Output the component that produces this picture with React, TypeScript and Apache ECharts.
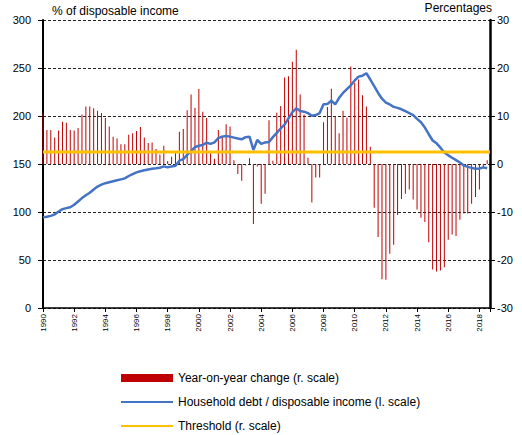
import React, { useEffect, useRef } from "react";
import * as echarts from "echarts";

const START_YEAR = 1990;
const END_X = 2018.68;
const THRESHOLD = 2.5;

// Year-on-year change (%, right scale), quarterly from 1990Q1
const yoyChange = [
  10.5, 7.1, 7.1, 5.5, 7.0, 8.8, 8.6, 7.1, 7.0, 7.5,
  10.3, 12.0, 12.0, 11.6, 11.1, 10.6, 9.6, 7.8, 5.7, 5.3,
  4.1, 4.1, 6.1, 6.4, 6.9, 7.7, 5.5, 4.4, 4.5, 3.1,
  2.0, 3.8, 0.6, 1.5, 2.4, 6.7, 7.3, 11.2, 14.5, 11.7,
  15.6, 10.9, 9.6, 2.2, 1.1, 7.1, 5.9, 8.3, 7.8, 0.8,
  -2.1, -3.5, -0.3, 1.2, -12.5, -0.5, -8.3, -6.2, 9.1, 0.7,
  10.7, 12.1, 18.0, 18.3, 21.3, 23.8, 14.5, 10.3, 1.3, -8.0,
  -2.8, -2.8, 8.7, 11.9, 15.7, 9.9, 6.4, 11.1, 9.7, 20.3,
  16.9, 17.6, 14.3, 12.0, 3.6, -9.1, -15.2, -24.0, -24.1, -18.7,
  -16.8, -10.6, -7.3, -6.2, -5.3, -7.4, -9.5, -11.2, -12.1, -16.3,
  -22.0, -22.4, -22.2, -21.5, -15.8, -14.7, -15.0, -11.6, -10.3, -10.3,
  -8.3, -6.9, -5.3, -0.6, 0.8,
];

// Household debt / disposable income (%, left scale), quarterly from 1990Q1
const debtRatio = [
  94.5, 95, 96, 97.5, 100.5, 103, 104, 105, 107.5, 111,
  114.5, 117.5, 120, 123.5, 126.5, 128.5, 130, 131, 132, 133,
  134, 135, 137.5, 139.5, 141.3, 142.5, 143.5, 144.3, 145, 145.5,
  146.1, 147.5, 146.5, 147.5, 148.2, 153.5, 155, 159.5, 163.5, 167.5,
  169, 169.8, 172.2, 171, 172.5, 177, 178.5, 179.2, 178.5, 177.5,
  176.5, 175.7, 178, 178.5, 164.6, 175, 171, 172.5, 173, 178,
  182.5, 187, 191, 197.5, 204, 208, 205.2, 204.5, 203, 200.3,
  201, 203, 212.2, 212.5, 216, 212, 219, 224, 228, 232,
  237, 241, 242, 244.5, 238, 231, 224, 218, 214, 212,
  209.5, 208.5, 207, 205, 203, 201, 197, 193.5, 188, 181,
  174.5, 171.5, 167, 162, 159, 156.5, 154, 151.5, 148.5, 147,
  146, 145, 145.3, 146.5, 145.5,
];

const quarterX = yoyChange.map((_, i) => START_YEAR + i / 4);

const FONT = "Liberation Sans";

export default function App() {
  const ref = useRef<HTMLDivElement>(null);

  useEffect(() => {
    if (!ref.current) return;
    const chart = echarts.init(ref.current, null, { renderer: "svg" });
    chart.setOption({
      animation: false,
      textStyle: { fontFamily: FONT },
      grid: { left: 43, right: 32, top: 20, bottom: 127 },
      legend: {
        orient: "vertical",
        left: 115,
        top: 367,
        height: 120,
        itemWidth: 52,
        itemHeight: 8,
        itemGap: 12,
        textStyle: { fontSize: 12, color: "#000", fontFamily: FONT },
        data: [
          { name: "Year-on-year change (r. scale)", icon: "rect" },
          { name: "Household debt / disposable income (l. scale)", itemStyle: { opacity: 0 } },
          { name: "Threshold (r. scale)", itemStyle: { opacity: 0 } },
        ],
      },
      graphic: [
        {
          type: "text",
          left: 52,
          top: 5,
          style: { text: "% of disposable income", fontSize: 12, fill: "#000", fontFamily: FONT },
        },
        {
          type: "text",
          right: 30,
          top: 2,
          style: { text: "Percentages", fontSize: 12, fill: "#000", fontFamily: FONT },
        },
      ],
      xAxis: {
        type: "value",
        min: START_YEAR,
        max: END_X,
        interval: 2,
        axisLine: { show: true, lineStyle: { color: "#000", width: 1.5 } },
        axisTick: { show: true, length: 4, lineStyle: { color: "#000" } },
        splitLine: { show: false },
        axisLabel: {
          rotate: 90,
          fontSize: 8,
          color: "#000",
          margin: 6,
          formatter: (v: number) => (Number.isInteger(v) ? String(v) : ""),
        },
      },
      yAxis: [
        {
          type: "value",
          min: 0,
          max: 300,
          interval: 50,
          position: "left",
          axisLine: { show: true, lineStyle: { color: "#000", width: 2 } },
          axisTick: { show: true, length: 5, lineStyle: { color: "#000" } },
          axisLabel: { fontSize: 11, color: "#000", margin: 12 },
          splitLine: { show: true, lineStyle: { color: "#222", type: [3, 2], width: 1 } },
        },
        {
          type: "value",
          min: -30,
          max: 30,
          interval: 10,
          position: "right",
          axisLine: { show: true, lineStyle: { color: "#000", width: 2.5 } },
          axisTick: { show: true, length: 5, lineStyle: { color: "#000" } },
          axisLabel: { fontSize: 11, color: "#000", margin: 7 },
          splitLine: { show: false },
        },
      ],
      series: [
        {
          name: "Year-on-year change (r. scale)",
          type: "bar",
          yAxisIndex: 1,
          barWidth: 0.7,
          itemStyle: { color: "#c00000" },
          data: quarterX.map((x, i) => [x, yoyChange[i]]),
        },
        {
          name: "Household debt / disposable income (l. scale)",
          type: "line",
          yAxisIndex: 0,
          symbol: "none",
          lineStyle: { color: "#4472C4", width: 2.5 },
          itemStyle: { color: "#4472C4" },
          data: quarterX.map((x, i) => [x, debtRatio[i]]),
        },
        {
          name: "Threshold (r. scale)",
          type: "line",
          yAxisIndex: 1,
          symbol: "none",
          lineStyle: { color: "#FFC000", width: 3 },
          itemStyle: { color: "#FFC000" },
          data: [
            [START_YEAR, THRESHOLD],
            [END_X, THRESHOLD],
          ],
        },
      ],
    });
    return () => chart.dispose();
  }, []);

  return (
    <div
      ref={ref}
      style={{ position: "fixed", left: 0, top: 0, width: 522, height: 435, background: "#fff" }}
    />
  );
}
